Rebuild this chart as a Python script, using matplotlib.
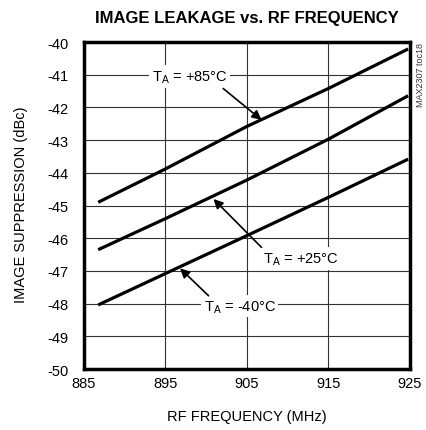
import matplotlib
matplotlib.use("Agg")
import matplotlib.pyplot as plt
from matplotlib import font_manager

names = {f.name for f in font_manager.fontManager.ttflist}
narrow = "Liberation Sans Narrow" if "Liberation Sans Narrow" in names else "Liberation Sans"
plt.rcParams['font.family'] = [narrow, 'DejaVu Sans']
plt.rcParams['axes.unicode_minus'] = False

freq = [886.75, 895, 905, 915, 924.8]
t85 = [-44.90, -43.88, -42.58, -41.42, -40.21]
t25 = [-46.35, -45.40, -44.22, -42.97, -41.64]
tm40 = [-48.04, -47.08, -45.92, -44.75, -43.58]

xticks = [885, 895, 905, 915, 925]
yticks = list(range(-50, -39))

fig = plt.figure(figsize=(4.26, 4.31), dpi=100)
ax = fig.add_axes([0.197, 0.1415, 0.765, 0.7585])

for y in (t85, t25, tm40):
    ax.plot(freq, y, color='black', lw=2.3, solid_capstyle='butt', zorder=3)

ax.set_xlim(885, 925)
ax.set_ylim(-50, -40)
ax.set_xticks(xticks)
ax.set_yticks(yticks)
ax.tick_params(length=0, labelsize=10.5)
ax.tick_params(axis='y', pad=11)
ax.tick_params(axis='x', pad=5)
ax.grid(True, color='#333333', lw=0.8)
ax.set_axisbelow(True)
for s in ax.spines.values():
    s.set_linewidth(2.5)

fig.text(0.58, 0.032, "RF FREQUENCY (MHz)", ha='center', va='center', fontsize=10.5)
fig.text(0.05, 0.524, "IMAGE SUPPRESSION (dBc)", ha='center', va='center', rotation=90, fontsize=10.5)
fig.text(0.58, 0.958, "IMAGE LEAKAGE vs. RF FREQUENCY", ha='center', va='center',
         fontsize=12, fontweight='bold')
fig.text(0.986, 0.9, "MAX2307 toc18", rotation=90, ha='center', va='top', fontsize=6.5, color='#333333')

bbox = dict(facecolor='white', edgecolor='none', pad=2)
arrow = dict(arrowstyle='-|>', color='black', lw=1.2, mutation_scale=14, shrinkA=0, shrinkB=0)
fs = 10.5
ax.text(898.0, -41.05, r"T$_\mathregular{A}$ = +85°C", ha='center', va='center', fontsize=fs, bbox=bbox, zorder=4)
ax.annotate("", xy=(906.8, -42.38), xytext=(902.1, -41.42), arrowprops=arrow, zorder=4)
ax.text(911.6, -46.62, r"T$_\mathregular{A}$ = +25°C", ha='center', va='center', fontsize=fs, bbox=bbox, zorder=4)
ax.annotate("", xy=(900.9, -44.8), xytext=(906.8, -46.28), arrowprops=arrow, zorder=4)
ax.text(904.1, -48.08, r"T$_\mathregular{A}$ = -40°C", ha='center', va='center', fontsize=fs, bbox=bbox, zorder=4)
ax.annotate("", xy=(896.8, -46.92), xytext=(900.3, -47.76), arrowprops=arrow, zorder=4)

fig.savefig("out.png", dpi=100)
